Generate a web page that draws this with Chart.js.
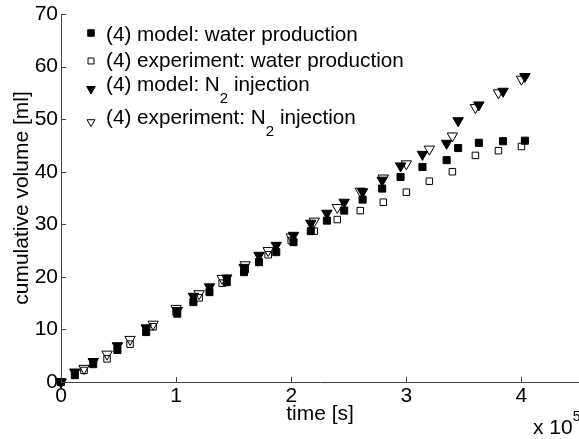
<!DOCTYPE html>
<html>
<head>
<meta charset="utf-8">
<script src="https://cdn.jsdelivr.net/npm/chart.js@4.4.1/dist/chart.umd.min.js"></script>
<style>
  body { margin: 0; background: #fff; }
  #wrap { width: 579px; height: 439px; }
</style>
</head>
<body>
<div id="wrap"><canvas id="myChart" width="579" height="439"></canvas></div>
<script>
// time in seconds, volumes in ml
const modelTime = [0, 12000, 28000, 49000, 74000, 101000, 115000, 129000, 144000, 159000, 172000, 187000, 202000,
    217000, 231000, 246000, 262000, 279000, 295000, 314000, 335000, 345000, 363000, 384000, 403000];
const modelWater = [0, 1.3, 3.4, 6.1, 9.5, 13.0, 15.2, 17.1, 19.0, 20.9, 22.8, 24.7, 26.6,
    28.7, 30.7, 32.6, 34.7, 36.8, 39.0, 40.9, 42.2, 44.5, 45.5, 45.8, 45.9];
const modelN2 = [0, 1.9, 3.9, 6.9, 10.3, 13.6, 16.3, 18.1, 19.8, 21.8, 24.1, 26.0, 27.9,
    30.2, 32.1, 34.2, 36.2, 38.4, 41.1, 43.3, 45.4, 49.7, 52.7, 55.3, 58.1];

const expTime = [0, 20000, 40000, 60000, 80000, 100000, 120000, 140000, 160000, 180000, 200000,
    220000, 240000, 260000, 280000, 300000, 320000, 340000, 360000, 380000, 400000];
const expWater = [0, 2.2, 4.4, 7.2, 10.5, 13.3, 16.0, 18.8, 21.4, 24.2, 26.9,
    28.7, 30.9, 32.6, 34.2, 36.1, 38.2, 40.0, 43.1, 44.0, 44.8];
const expN2 = [0, 2.6, 5.3, 8.1, 11.0, 14.0, 16.8, 19.7, 22.3, 25.0, 27.6,
    30.6, 33.2, 36.3, 38.8, 41.5, 44.3, 46.8, 52.2, 55.0, 57.6];

const xTicks = [0, 100000, 200000, 300000, 400000];
const yTicks = [0, 10, 20, 30, 40, 50, 60, 70];

const legendLabels = [
    '(4) model: water production',
    '(4) experiment: water production',
    '(4) model: N_2 injection',
    '(4) experiment: N_2 injection'
];

const FONT = "'Liberation Sans', Arial, Helvetica, sans-serif";

function pts(xs, ys) {
    return xs.map((x, i) => ({x: x, y: ys[i]}));
}

// marker styles, same order as legendLabels
const markers = [
    {pointStyle: 'rect', rotation: 0, fill: '#000', radius: 5, legendRadius: 4.6},
    {pointStyle: 'rect', rotation: 0, fill: 'rgba(0,0,0,0)', radius: 4.6, legendRadius: 4.2},
    {pointStyle: 'triangle', rotation: 180, fill: '#000', radius: 6, legendRadius: 5},
    {pointStyle: 'triangle', rotation: 180, fill: 'rgba(0,0,0,0)', radius: 6, legendRadius: 4.6}
];
const seriesData = [pts(modelTime, modelWater), pts(expTime, expWater), pts(modelTime, modelN2), pts(expTime, expN2)];

// later series on top, like the original plot order
let datasets = seriesData.map((d, i) => ({
    label: legendLabels[i],
    data: d,
    showLine: false,
    pointStyle: markers[i].pointStyle,
    pointRotation: markers[i].rotation,
    pointRadius: markers[i].radius,
    pointHoverRadius: markers[i].radius,
    pointBackgroundColor: markers[i].fill,
    pointBorderColor: '#000',
    pointBorderWidth: 1,
    clip: false,
    order: 3 - i
}));

function drawMarker(ctx, m, x, y, r) {
    ctx.save();
    ctx.beginPath();
    if (m.pointStyle === 'rect') {
        const s = r * Math.SQRT1_2;
        ctx.rect(x - s, y - s, 2 * s, 2 * s);
    } else {
        const w = r * Math.sqrt(3) / 2;
        ctx.moveTo(x - w, y - r / 2);
        ctx.lineTo(x + w, y - r / 2);
        ctx.lineTo(x, y + r);
        ctx.closePath();
    }
    ctx.fillStyle = m.fill;
    ctx.fill();
    ctx.lineWidth = 1;
    ctx.strokeStyle = '#000';
    ctx.stroke();
    ctx.restore();
}

function drawLabel(ctx, text, x, y) {
    // "_2" means subscript 2
    const parts = text.split('_');
    ctx.font = '20.7px ' + FONT;
    ctx.fillText(parts[0], x, y);
    if (parts.length > 1) {
        let cx = x + ctx.measureText(parts[0]).width;
        ctx.font = '15px ' + FONT;
        ctx.fillText(parts[1][0], cx, y + 14);
        cx += ctx.measureText(parts[1][0]).width;
        ctx.font = '20.7px ' + FONT;
        ctx.fillText(parts[1].slice(1), cx, y);
    }
}

const extras = {
    id: 'extras',
    afterDraw(chart) {
        const ctx = chart.ctx;
        const xs = chart.scales.x, ys = chart.scales.y;
        const area = chart.chartArea;
        ctx.save();
        // ticks pointing inwards
        ctx.strokeStyle = '#444';
        ctx.lineWidth = 1;
        ctx.beginPath();
        xTicks.forEach(v => {
            const px = Math.round(xs.getPixelForValue(v)) + 0.5;
            ctx.moveTo(px, area.bottom);
            ctx.lineTo(px, area.bottom - 5);
        });
        yTicks.forEach(v => {
            const py = Math.round(ys.getPixelForValue(v)) + 0.5;
            ctx.moveTo(area.left, py);
            ctx.lineTo(area.left + 5, py);
        });
        ctx.stroke();

        // legend
        const rowY = [35, 61, 85, 118];
        const markY = [33, 61, 89, 122];
        ctx.fillStyle = '#000';
        ctx.textAlign = 'left';
        ctx.textBaseline = 'middle';
        legendLabels.forEach((lab, i) => {
            drawMarker(ctx, markers[i], 91, markY[i], markers[i].legendRadius);
            ctx.fillStyle = '#000';
            drawLabel(ctx, lab, 106, rowY[i]);
        });

        // axis multiplier
        ctx.font = '21px ' + FONT;
        ctx.fillText('x 10', 533, 428);
        const w = ctx.measureText('x 10').width;
        ctx.font = '14px ' + FONT;
        ctx.fillText('5', 533 + w, 417);
        ctx.restore();
    }
};

let ctxEL = document.getElementById('myChart').getContext('2d');
let chart = new Chart(ctxEL, {
    type: 'scatter',
    data: {datasets: datasets},
    options: {
        responsive: false,
        animation: false,
        events: [],
        layout: {autoPadding: false, padding: {top: 14, right: 0, left: 0, bottom: 0}},
        plugins: {legend: {display: false}, tooltip: {enabled: false}},
        scales: {
            x: {
                type: 'linear',
                min: 0,
                max: 450000,
                afterBuildTicks: s => { s.ticks = xTicks.map(v => ({value: v})); },
                afterFit: s => { s.height = 57; s.paddingLeft = 0; s.paddingRight = 0; },
                grid: {display: false, drawTicks: false},
                border: {display: true, color: '#444', width: 1},
                ticks: {
                    color: '#000',
                    padding: 2,
                    maxRotation: 0,
                    font: {family: FONT, size: 21},
                    callback: v => String(v / 100000)
                },
                title: {
                    display: true,
                    text: 'time [s]',
                    color: '#000',
                    font: {family: FONT, size: 21},
                    padding: {top: 0, bottom: 12}
                }
            },
            y: {
                type: 'linear',
                min: 0,
                max: 70,
                afterBuildTicks: s => { s.ticks = yTicks.map(v => ({value: v})); },
                afterFit: s => { s.width = 61; s.paddingTop = 0; s.paddingBottom = 0; },
                grid: {display: false, drawTicks: false},
                border: {display: true, color: '#444', width: 1},
                ticks: {
                    color: '#000',
                    padding: 3,
                    font: {family: FONT, size: 21}
                },
                title: {
                    display: true,
                    text: 'cumulative volume [ml]',
                    color: '#000',
                    font: {family: FONT, size: 21},
                    padding: {top: 10, bottom: 0}
                }
            }
        }
    },
    plugins: [extras]
});
</script>
</body>
</html>
